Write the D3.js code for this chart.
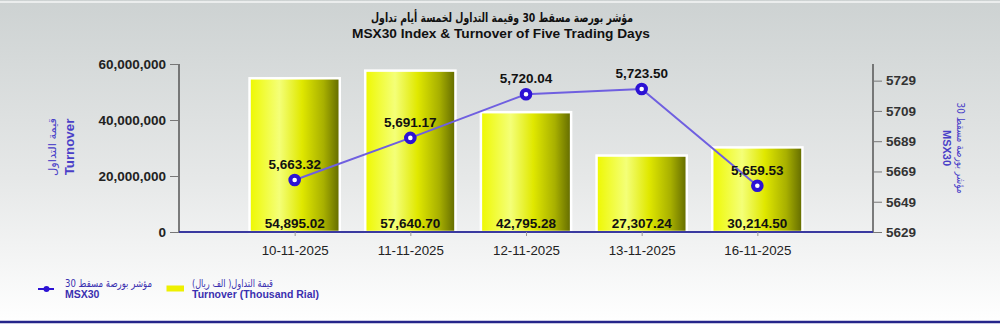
<!DOCTYPE html>
<html><head><meta charset="utf-8">
<script src="https://cdn.jsdelivr.net/npm/d3@7"></script>
<style>html,body{margin:0;padding:0;background:#fff;}svg{display:block;}</style>
</head><body>
<svg id="chart" width="1000" height="324"></svg>
<script>
const dates = ["10-11-2025","11-11-2025","12-11-2025","13-11-2025","16-11-2025"];
const turnover = [54895.02, 57640.70, 42795.28, 27307.24, 30214.50]; // thousand rial
const msx30 = [5663.32, 5691.17, 5720.04, 5723.50, 5659.53];
const leftTicks = [0, 20000000, 40000000, 60000000];
const rightTicks = [5629, 5649, 5669, 5689, 5709, 5729];
const titleAr = "مؤشر بورصة مسقط 30 وقيمة التداول لخمسة أيام تداول";
const titleEn = "MSX30 Index & Turnover of Five Trading Days";

const svg = d3.select("#chart");
const W = 1000, H = 324;
const defs = svg.append("defs");
const bg = defs.append("linearGradient").attr("id","bg").attr("x1",0).attr("y1",0).attr("x2",0).attr("y2",1);
bg.append("stop").attr("offset","0%").attr("stop-color","#cdd2d2");
bg.append("stop").attr("offset","55%").attr("stop-color","#e6e8e8");
bg.append("stop").attr("offset","100%").attr("stop-color","#ffffff");
const bar = defs.append("linearGradient").attr("id","bar").attr("x1",0).attr("y1",0).attr("x2",1).attr("y2",0);
[["0%","#eef800"],["33%","#f4ff78"],["58%","#e0e800"],["82%","#a8b000"],["100%","#626a00"]].forEach(s=>
  bar.append("stop").attr("offset",s[0]).attr("stop-color",s[1]));

svg.append("rect").attr("width",W).attr("height",H).attr("fill","url(#bg)");
svg.append("line").attr("x1",0).attr("x2",W).attr("y1",2).attr("y2",2).attr("stroke","#f4f6f6").attr("stroke-width",1.5);
svg.append("line").attr("x1",0).attr("x2",W).attr("y1",322).attr("y2",322).attr("stroke","#25258a").attr("stroke-width",2.5);

const x0 = 179, x1 = 873, yTop = 64, yBot = 232;
const x = d3.scalePoint().domain(dates).range([x0,x1]).padding(1);
const yL = d3.scaleLinear().domain([0,60000000]).range([yBot,yTop]);
const yR = d3.scaleLinear().domain([5629,5740]).range([yBot,yTop]);
const bw = x.step()*0.78;

// Title
svg.append("text").attr("x",502).attr("y",22).attr("text-anchor","middle")
  .attr("font-family","DejaVu Sans").attr("font-weight","bold").attr("font-size",12.5).attr("fill","#111")
  .attr("textLength",262).attr("lengthAdjust","spacingAndGlyphs").text(titleAr);
svg.append("text").attr("x",501).attr("y",38).attr("text-anchor","middle")
  .attr("font-family","Liberation Sans, Arial").attr("font-weight","bold").attr("font-size",13.7).attr("fill","#111").text(titleEn);

// Bars
svg.append("g").selectAll("rect").data(dates).join("rect")
  .attr("x",d=>x(d)-bw/2).attr("width",bw)
  .attr("y",(d,i)=>yL(turnover[i]*1000)).attr("height",(d,i)=>yBot-yL(turnover[i]*1000))
  .attr("fill","url(#bar)").attr("stroke","#ffffff").attr("stroke-width",2.5);

// Left axis
const gL = svg.append("g").attr("transform",`translate(${x0},0)`)
  .call(d3.axisLeft(yL).tickValues(leftTicks).tickFormat(d3.format(",")).tickSize(9).tickPadding(4));
gL.select(".domain").attr("stroke","#555").attr("stroke-width",1.5).attr("d",`M-0,${yTop}V${yBot}`);
gL.selectAll(".tick line").attr("stroke","#777");
gL.selectAll(".tick text").attr("font-family","Liberation Sans, Arial").attr("font-weight","bold").attr("font-size",13.5).attr("fill","#222");

// Right axis
const gR = svg.append("g").attr("transform",`translate(${x1},0)`)
  .call(d3.axisRight(yR).tickValues(rightTicks).tickFormat(d3.format("d")).tickSize(9).tickPadding(4));
gR.select(".domain").attr("stroke","#555").attr("stroke-width",1.5).attr("d",`M0,${yTop}V${yBot}`);
gR.selectAll(".tick line").attr("stroke","#777");
gR.selectAll(".tick text").attr("font-family","Liberation Sans, Arial").attr("font-weight","bold").attr("font-size",13.5).attr("fill","#333");

// X axis
const gX = svg.append("g").attr("transform",`translate(0,${yBot})`)
  .call(d3.axisBottom(x).tickSize(4).tickPadding(6));
gX.select(".domain").attr("stroke","#3a3aa0").attr("stroke-width",2).attr("d",`M${x0},0H${x1}`);
gX.selectAll(".tick line").attr("stroke","#999");
gX.selectAll(".tick text").attr("font-family","Liberation Sans, Arial").attr("font-size",13.3).attr("fill","#222").attr("dy","0.95em");

// Bar labels
svg.append("g").selectAll("text").data(dates).join("text")
  .attr("x",d=>x(d)).attr("y",yBot-4).attr("text-anchor","middle")
  .attr("font-family","Liberation Sans, Arial").attr("font-weight","bold").attr("font-size",13.5).attr("fill","#111")
  .text((d,i)=>d3.format(",.2f")(turnover[i]));

// Line
const line = d3.line().x((d,i)=>x(dates[i])).y(d=>yR(d));
svg.append("path").datum(msx30).attr("d",line).attr("fill","none").attr("stroke","#6f5fe0").attr("stroke-width",2);
svg.append("g").selectAll("circle").data(msx30).join("circle")
  .attr("cx",(d,i)=>x(dates[i])).attr("cy",d=>yR(d)).attr("r",4.3)
  .attr("fill","#ffffff").attr("stroke","#2c12d4").attr("stroke-width",4);
svg.append("g").selectAll("text").data(msx30).join("text")
  .attr("x",(d,i)=>x(dates[i])).attr("y",d=>yR(d)-11).attr("text-anchor","middle")
  .attr("font-family","Liberation Sans, Arial").attr("font-weight","bold").attr("font-size",13.5).attr("fill","#111")
  .text(d=>d3.format(",.2f")(d));

// Axis titles
const lt = svg.append("g").attr("transform","translate(0,147)");
lt.append("text").attr("transform","translate(56,0) rotate(-90)").attr("text-anchor","middle")
  .attr("font-family","DejaVu Sans").attr("font-size",11).attr("fill","#4a3fc8")
  .attr("textLength",58).attr("lengthAdjust","spacingAndGlyphs").text("قيمة التداول");
lt.append("text").attr("transform","translate(74,0) rotate(-90)").attr("text-anchor","middle")
  .attr("font-family","Liberation Sans, Arial").attr("font-weight","bold").attr("font-size",13.3).attr("fill","#4a3fc8").text("Turnover");
const rt = svg.append("g").attr("transform","translate(0,148)");
rt.append("text").attr("transform","translate(957,0) rotate(90)").attr("text-anchor","middle")
  .attr("font-family","DejaVu Sans").attr("font-size",11).attr("fill","#4a3fc8")
  .attr("textLength",91).attr("lengthAdjust","spacingAndGlyphs").text("مؤشر بورصة مسقط 30");
rt.append("text").attr("transform","translate(943,0) rotate(90)").attr("text-anchor","middle")
  .attr("font-family","Liberation Sans, Arial").attr("font-weight","bold").attr("font-size",11).attr("fill","#4a3fc8").text("MSX30");

// Legend
const lg = svg.append("g");
lg.append("line").attr("x1",38).attr("x2",54).attr("y1",289).attr("y2",289).attr("stroke","#2c12d4").attr("stroke-width",2);
lg.append("circle").attr("cx",46.5).attr("cy",289).attr("r",3).attr("fill","#2c12d4");
lg.append("text").attr("x",65).attr("y",287).attr("font-family","DejaVu Sans").attr("font-size",10.5).attr("fill","#3a30b0")
  .attr("textLength",87).attr("lengthAdjust","spacingAndGlyphs").text("مؤشر بورصة مسقط 30");
lg.append("text").attr("x",65).attr("y",298).attr("font-family","Liberation Sans, Arial").attr("font-weight","bold").attr("font-size",10.5).attr("fill","#3a30b0").text("MSX30");
lg.append("rect").attr("x",166.5).attr("y",285.5).attr("width",17.5).attr("height",6).attr("fill","#eef000");
lg.append("text").attr("x",192).attr("y",287).attr("font-family","DejaVu Sans").attr("font-size",10.5).attr("fill","#3a30b0")
  .attr("textLength",81).attr("lengthAdjust","spacingAndGlyphs").text("قيمة التداول( الف ريال)");
lg.append("text").attr("x",192).attr("y",298).attr("font-family","Liberation Sans, Arial").attr("font-weight","bold").attr("font-size",10.5).attr("fill","#3a30b0").text("Turnover (Thousand Rial)");
</script>
</body></html>
